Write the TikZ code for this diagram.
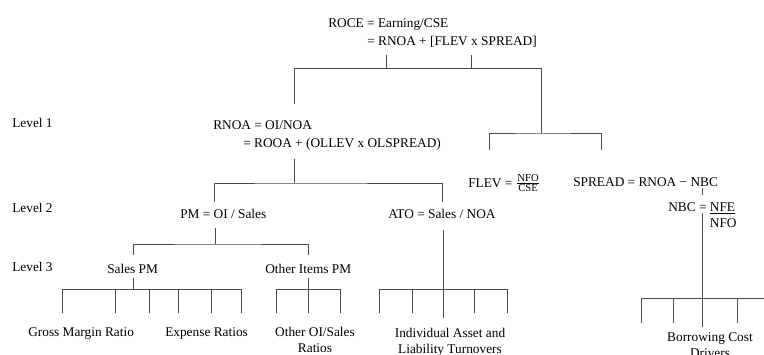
\documentclass[tikz,border=0pt]{standalone}
\usepackage{fontspec}
\setmainfont{Liberation Serif}
\newcommand{\smallfrac}[2]{$\frac{\mbox{\fontsize{8}{9}\selectfont #1}}{\mbox{\fontsize{8}{9}\selectfont #2}}$}
\begin{document}
\begin{tikzpicture}[x=0.75pt,y=-0.75pt,
  txt/.style={font=\fontsize{10}{12}\selectfont, inner sep=0pt, anchor=base west},
  mtxt/.style={txt, anchor=base, align=center},
  ast/.style={draw=black!70, line width=0.75pt}]
  \useasboundingbox (0,0) rectangle (764,354);
  % Ebenen
  \foreach \lev/\y in {1/127, 2/212, 3/271} {
    \node[txt] (lev\lev) at (12,\y) {Level \lev};
  }
  % Ebene 0: ROCE
  \node[txt] (roce) at (328,27) {ROCE = Earning/CSE};
  \node[txt] (roceb) at (367,45) {= RNOA + [FLEV x SPREAD]};
  % Ebene 1
  \node[txt] (rnoa) at (213,129) {RNOA = OI/NOA};
  \node[txt] (rnoab) at (243,147) {= ROOA + (OLLEV x OLSPREAD)};
  \node[txt] (flev) at (468,187) {FLEV = \smallfrac{NFO}{CSE}};
  \node[txt] (spread) at (573,186) {SPREAD = RNOA − NBC};
  \node[txt] (nbc) at (668,211) {NBC = \begin{tabular}[t]{@{}l@{}}\underline{NFE}\\NFO\end{tabular}};
  % Ebene 2
  \node[txt] (pm) at (180,218) {PM = OI / Sales};
  \node[txt] (ato) at (388,218) {ATO = Sales / NOA};
  % Ebene 3
  \node[txt] (salespm) at (107,273) {Sales PM};
  \node[txt] (otherpm) at (265,273) {Other Items PM};
  % Treiber (Basis = letzte Zeile)
  \node[txt] (gross) at (28,336) {Gross Margin Ratio};
  \node[txt] (expense) at (165,336) {Expense Ratios};
  \node[mtxt] (otheroi) at (315,352) {Other OI/Sales\\Ratios};
  \node[mtxt] (turnover) at (450,353) {Individual Asset and\\Liability Turnovers};
  \node[mtxt] (borrow) at (710,357) {Borrowing Cost\\Drivers};

  % Verbindungen Ebene 0 -> 1
  \coordinate (t1) at (386,55);
  \coordinate (t2) at (471,55);
  \coordinate (bar0) at (294,68);
  \coordinate (rnoatop) at (294,104);
  \coordinate (fintop) at (541,133);
  \draw[ast] (rnoatop) -- (bar0) -| (fintop);
  \draw[ast] (t1) -- (t1 |- bar0);
  \draw[ast] (t2) -- (t2 |- bar0);
  % FLEV und SPREAD
  \coordinate (flevtop) at (489,150);
  \coordinate (spreadtop) at (601,150);
  \draw[ast] (flevtop) |- (fintop) -| (spreadtop);
  \coordinate (spreadbot) at (702,188);
  \coordinate (nbctop) at (702,195);
  \draw[ast] (spreadbot) -- (nbctop);
  \coordinate (nbcbot) at (702,213);
  \coordinate (bar3d) at (702,298);
  \draw[ast] (nbcbot) -- (702,327);
  \foreach \x in {641,673,737} {
    \coordinate (leafd\x) at (\x,323);
    \draw[ast] (leafd\x) |- (bar3d);
  }
  \coordinate (bcend) at (770,298);
  \draw[ast] (bar3d) -- (bcend);
  % Verbindungen Ebene 1 -> 2
  \coordinate (rnoabot) at (294,159);
  \coordinate (bar1) at (294,183);
  \coordinate (pmtop) at (214,202);
  \coordinate (atotop) at (442,202);
  \draw[ast] (rnoabot) -- (bar1);
  \draw[ast] (pmtop) |- (bar1) -| (atotop);
  % Verbindungen Ebene 2 -> 3
  \coordinate (pmbot) at (215,228);
  \coordinate (bar2) at (215,244);
  \coordinate (salestop) at (133,255);
  \coordinate (othertop) at (308,255);
  \draw[ast] (pmbot) -- (bar2);
  \draw[ast] (salestop) |- (bar2) -| (othertop);
  % Sales PM
  \coordinate (salesbot) at (133,278);
  \coordinate (bar3a) at (133,289);
  \draw[ast] (salesbot) -- (bar3a);
  \foreach \x in {62,115,149,178,211,241} {
    \coordinate (leafa\x) at (\x,313);
    \draw[ast] (leafa\x) |- (bar3a);
  }
  % Other Items PM
  \coordinate (otherbot) at (308,278);
  \coordinate (bar3b) at (308,289);
  \draw[ast] (otherbot) -- (308,313);
  \foreach \x in {276,340} {
    \coordinate (leafb\x) at (\x,313);
    \draw[ast] (leafb\x) |- (bar3b);
  }
  % ATO
  \coordinate (atobot) at (443,230);
  \coordinate (bar3c) at (443,289);
  \draw[ast] (atobot) -- (443,318);
  \foreach \x in {379,412,474,507} {
    \coordinate (leafc\x) at (\x,313);
    \draw[ast] (leafc\x) |- (bar3c);
  }
\end{tikzpicture}
\end{document}
